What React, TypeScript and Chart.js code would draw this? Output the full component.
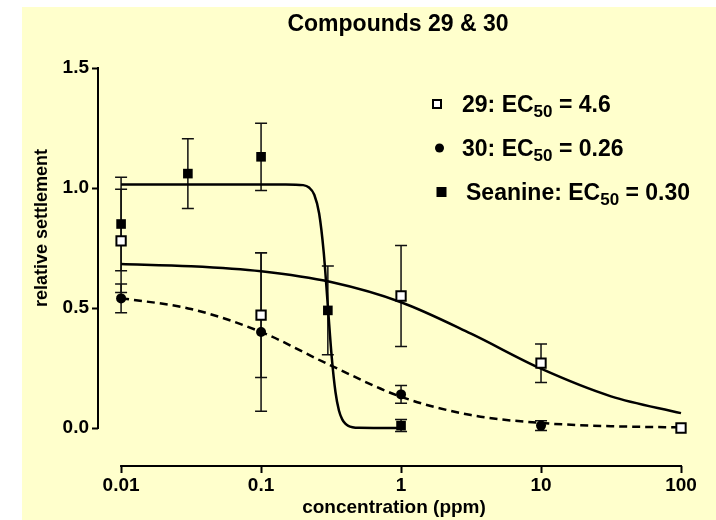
import React, { useEffect, useRef } from "react";
import { Chart, registerables } from "chart.js";

Chart.register(...registerables);

// ---- data ----
const tickValuesX = [0.01, 0.1, 1, 10, 100];
const tickLabelsX = ["0.01", "0.1", "1", "10", "100"];
const tickValuesY = [0, 0.5, 1, 1.5];
const tickLabelsY = ["0.0", "0.5", "1.0", "1.5"];

// compound 29 (open squares)
const conc29 = [0.01, 0.1, 1, 10, 100];
const mean29 = [0.78, 0.47, 0.55, 0.27, 0.0];
const err29 = [0.215, 0.26, 0.21, 0.08, 0.0];

// compound 30 (filled circles)
const conc30 = [0.01, 0.1, 1, 10, 100];
const mean30 = [0.54, 0.4, 0.14, 0.01, 0.0];
const err30 = [0.06, 0.33, 0.037, 0.02, 0.0];

// Seanine (filled squares)
const concSea = [0.01, 0.03, 0.1, 0.3, 1];
const meanSea = [0.85, 1.06, 1.13, 0.49, 0.01];
const errSea = [0.195, 0.145, 0.14, 0.185, 0.025];

// fitted curves
const fitX29 = [0.01, 0.0316, 0.1, 0.316, 1, 3.16, 10, 31.6, 100];
const fitY29 = [0.683, 0.674, 0.653, 0.608, 0.524, 0.393, 0.247, 0.132, 0.062];
const fitX30 = [0.01, 0.0316, 0.1, 0.316, 1, 3.16, 10, 31.6, 100];
const fitY30 = [0.541, 0.496, 0.4, 0.26, 0.13, 0.054, 0.021, 0.0075, 0.0027];
const fitXSea = [0.01, 0.1, 0.15, 0.2, 0.22, 0.24, 0.26, 0.28, 0.3, 0.32, 0.34, 0.36, 0.38, 0.4, 0.42, 0.45, 0.5, 1];
const fitYSea = [1.015, 1.015, 1.015, 1.012, 1.002, 0.972, 0.894, 0.735, 0.5075, 0.293, 0.15, 0.073, 0.036, 0.018, 0.009, 0.0035, 0.001, 0.0];

const legendNames = ["29: EC", "30: EC", "Seanine: EC"];
const legendValues = ["4.6", "0.26", "0.30"];
const legendSub = "50";

const titleText = "Compounds 29 & 30";
const xTitle = "concentration (ppm)";
const yTitle = "relative settlement";

const FONT = "'Liberation Sans', Arial, Helvetica, sans-serif";

function pts(xs: number[], ys: number[]) {
  return xs.map((x, i) => ({ x, y: ys[i] }));
}

function drawText(ctx: CanvasRenderingContext2D, text: string, x: number, y: number, font: string, align: CanvasTextAlign) {
  ctx.font = font;
  ctx.textAlign = align;
  ctx.textBaseline = "alphabetic";
  ctx.fillText(text, x, y);
}

const decorPlugin = {
  id: "decor",
  beforeDraw(chart: any) {
    const ctx = chart.ctx as CanvasRenderingContext2D;
    ctx.save();
    ctx.fillStyle = "#ffffff";
    ctx.fillRect(0, 0, chart.width, chart.height);
    ctx.fillStyle = "#FFFFCC";
    ctx.fillRect(22, 7, chart.width - 22, chart.height - 7);
    ctx.restore();
  },
  beforeDatasetsDraw(chart: any) {
    const ctx = chart.ctx as CanvasRenderingContext2D;
    const xs = chart.scales.x;
    const ys = chart.scales.y;
    const area = chart.chartArea;
    ctx.save();
    // axis lines (offset style)
    ctx.strokeStyle = "#000";
    ctx.lineWidth = 2;
    ctx.lineCap = "square";
    ctx.beginPath();
    ctx.moveTo(area.left, ys.getPixelForValue(tickValuesY[0]));
    ctx.lineTo(area.left, ys.getPixelForValue(tickValuesY[tickValuesY.length - 1]));
    ctx.moveTo(xs.getPixelForValue(tickValuesX[0]), area.bottom);
    ctx.lineTo(xs.getPixelForValue(tickValuesX[tickValuesX.length - 1]), area.bottom);
    ctx.stroke();

    // error bars
    const groups = [
      { c: concSea, m: meanSea, e: errSea },
      { c: conc29, m: mean29, e: err29 },
      { c: conc30, m: mean30, e: err30 },
    ];
    ctx.strokeStyle = "#111";
    ctx.lineWidth = 1.5;
    ctx.lineCap = "butt";
    for (const g of groups) {
      g.c.forEach((cx, i) => {
        if (!g.e[i]) return;
        const px = xs.getPixelForValue(cx);
        const top = ys.getPixelForValue(g.m[i] + g.e[i]);
        const bot = ys.getPixelForValue(g.m[i] - g.e[i]);
        ctx.beginPath();
        ctx.moveTo(px, top);
        ctx.lineTo(px, bot);
        ctx.moveTo(px - 6, top);
        ctx.lineTo(px + 6, top);
        ctx.moveTo(px - 6, bot);
        ctx.lineTo(px + 6, bot);
        ctx.stroke();
      });
    }
    ctx.restore();
  },
  afterDraw(chart: any) {
    const ctx = chart.ctx as CanvasRenderingContext2D;
    ctx.save();
    ctx.fillStyle = "#000";
    // title
    drawText(ctx, titleText, 398, 31, `bold 23px ${FONT}`, "center");
    // x title
    drawText(ctx, xTitle, 394, 513, `bold 19px ${FONT}`, "center");
    // y title
    ctx.save();
    ctx.translate(47, 228);
    ctx.rotate(-Math.PI / 2);
    drawText(ctx, yTitle, 0, 0, `bold 18px ${FONT}`, "center");
    ctx.restore();

    // legend
    const rows = [104, 148, 192];
    const markX = [437, 439.5, 441.5];
    const textX = [462, 462, 466];
    rows.forEach((ry, i) => {
      ctx.fillStyle = "#000";
      ctx.strokeStyle = "#000";
      if (i === 0) {
        ctx.fillStyle = "#fff";
        ctx.lineWidth = 2;
        ctx.fillRect(markX[i] - 4, ry - 4, 8, 8);
        ctx.strokeRect(markX[i] - 4, ry - 4, 8, 8);
      } else if (i === 1) {
        ctx.beginPath();
        ctx.arc(markX[i], ry, 4.5, 0, Math.PI * 2);
        ctx.fill();
      } else {
        ctx.fillRect(markX[i] - 5, ry - 5, 10, 10);
      }
      ctx.fillStyle = "#000";
      const base = ry + 8;
      const mainFont = `bold 23px ${FONT}`;
      const subFont = `bold 17px ${FONT}`;
      ctx.font = mainFont;
      const w1 = ctx.measureText(legendNames[i]).width;
      drawText(ctx, legendNames[i], textX[i], base, mainFont, "left");
      ctx.font = subFont;
      const w2 = ctx.measureText(legendSub).width;
      drawText(ctx, legendSub, textX[i] + w1, base + 5, subFont, "left");
      drawText(ctx, " = " + legendValues[i], textX[i] + w1 + w2, base, mainFont, "left");
    });
    ctx.restore();
  },
};

export default function App() {
  const ref = useRef<HTMLCanvasElement | null>(null);
  useEffect(() => {
    if (!ref.current) return;
    const tickFont = { family: FONT, size: 19, weight: "bold" as const };
    const chart = new Chart(ref.current, {
      type: "scatter",
      data: {
        datasets: [
          {
            label: "29",
            data: pts(conc29, mean29),
            pointStyle: "rect",
            pointRadius: 6.6,
            pointBorderWidth: 2,
            backgroundColor: "#ffffff",
            borderColor: "#000",
            showLine: false,
            order: 0,
          },
          {
            label: "30",
            data: pts(conc30, mean30),
            pointStyle: "circle",
            pointRadius: 5,
            pointBorderWidth: 0,
            backgroundColor: "#000",
            borderColor: "#000",
            showLine: false,
            order: 2,
          },
          {
            label: "Seanine",
            data: pts(concSea, meanSea),
            pointStyle: "rect",
            pointRadius: 6.8,
            pointBorderWidth: 0,
            backgroundColor: "#000",
            borderColor: "#000",
            showLine: false,
            order: 1,
          },
          {
            label: "fit 29",
            data: pts(fitX29, fitY29),
            showLine: true,
            pointRadius: 0,
            borderColor: "#000",
            borderWidth: 2.5,
            cubicInterpolationMode: "monotone",
            order: 5,
          },
          {
            label: "fit 30",
            data: pts(fitX30, fitY30),
            showLine: true,
            pointRadius: 0,
            borderColor: "#000",
            borderWidth: 2.5,
            borderDash: [8, 5],
            cubicInterpolationMode: "monotone",
            order: 5,
          },
          {
            label: "fit Seanine",
            data: pts(fitXSea, fitYSea),
            showLine: true,
            pointRadius: 0,
            borderColor: "#000",
            borderWidth: 2.5,
            cubicInterpolationMode: "monotone",
            order: 5,
          },
        ],
      },
      options: {
        animation: false,
        responsive: false,
        maintainAspectRatio: false,
        clip: false as any,
        layout: { padding: { left: 0, top: 68, right: 35, bottom: 0 } },
        plugins: {
          legend: { display: false },
          title: { display: false },
          tooltip: { enabled: false },
        },
        scales: {
          x: {
            type: "logarithmic",
            min: 0.00684,
            max: 100,
            afterBuildTicks: (s: any) => {
              s.ticks = tickValuesX.map((v) => ({ value: v }));
            },
            afterFit: (s: any) => {
              s.height = 54;
            },
            ticks: {
              callback: (_v: any, i: number) => tickLabelsX[i],
              font: tickFont,
              color: "#000",
              padding: 1,
              autoSkip: false,
              maxRotation: 0,
            },
            grid: {
              display: true,
              drawOnChartArea: false,
              drawTicks: true,
              tickLength: 7,
              tickWidth: 2,
              tickColor: "#000",
            },
            border: { display: false },
          },
          y: {
            type: "linear",
            min: -0.1583,
            max: 1.5,
            afterBuildTicks: (s: any) => {
              s.ticks = tickValuesY.map((v) => ({ value: v }));
            },
            afterFit: (s: any) => {
              s.width = 98;
            },
            ticks: {
              callback: (_v: any, i: number) => tickLabelsY[i],
              font: tickFont,
              color: "#000",
              padding: 3,
              autoSkip: false,
            },
            grid: {
              display: true,
              drawOnChartArea: false,
              drawTicks: true,
              tickLength: 6,
              tickWidth: 2,
              tickColor: "#000",
            },
            border: { display: false },
          },
        },
      } as any,
      plugins: [decorPlugin],
    });
    return () => chart.destroy();
  }, []);
  return (
    <div style={{ position: "absolute", left: 0, top: 0, width: 716, height: 520 }}>
      <canvas ref={ref} width={716} height={520} style={{ display: "block", width: 716, height: 520 }} />
    </div>
  );
}
